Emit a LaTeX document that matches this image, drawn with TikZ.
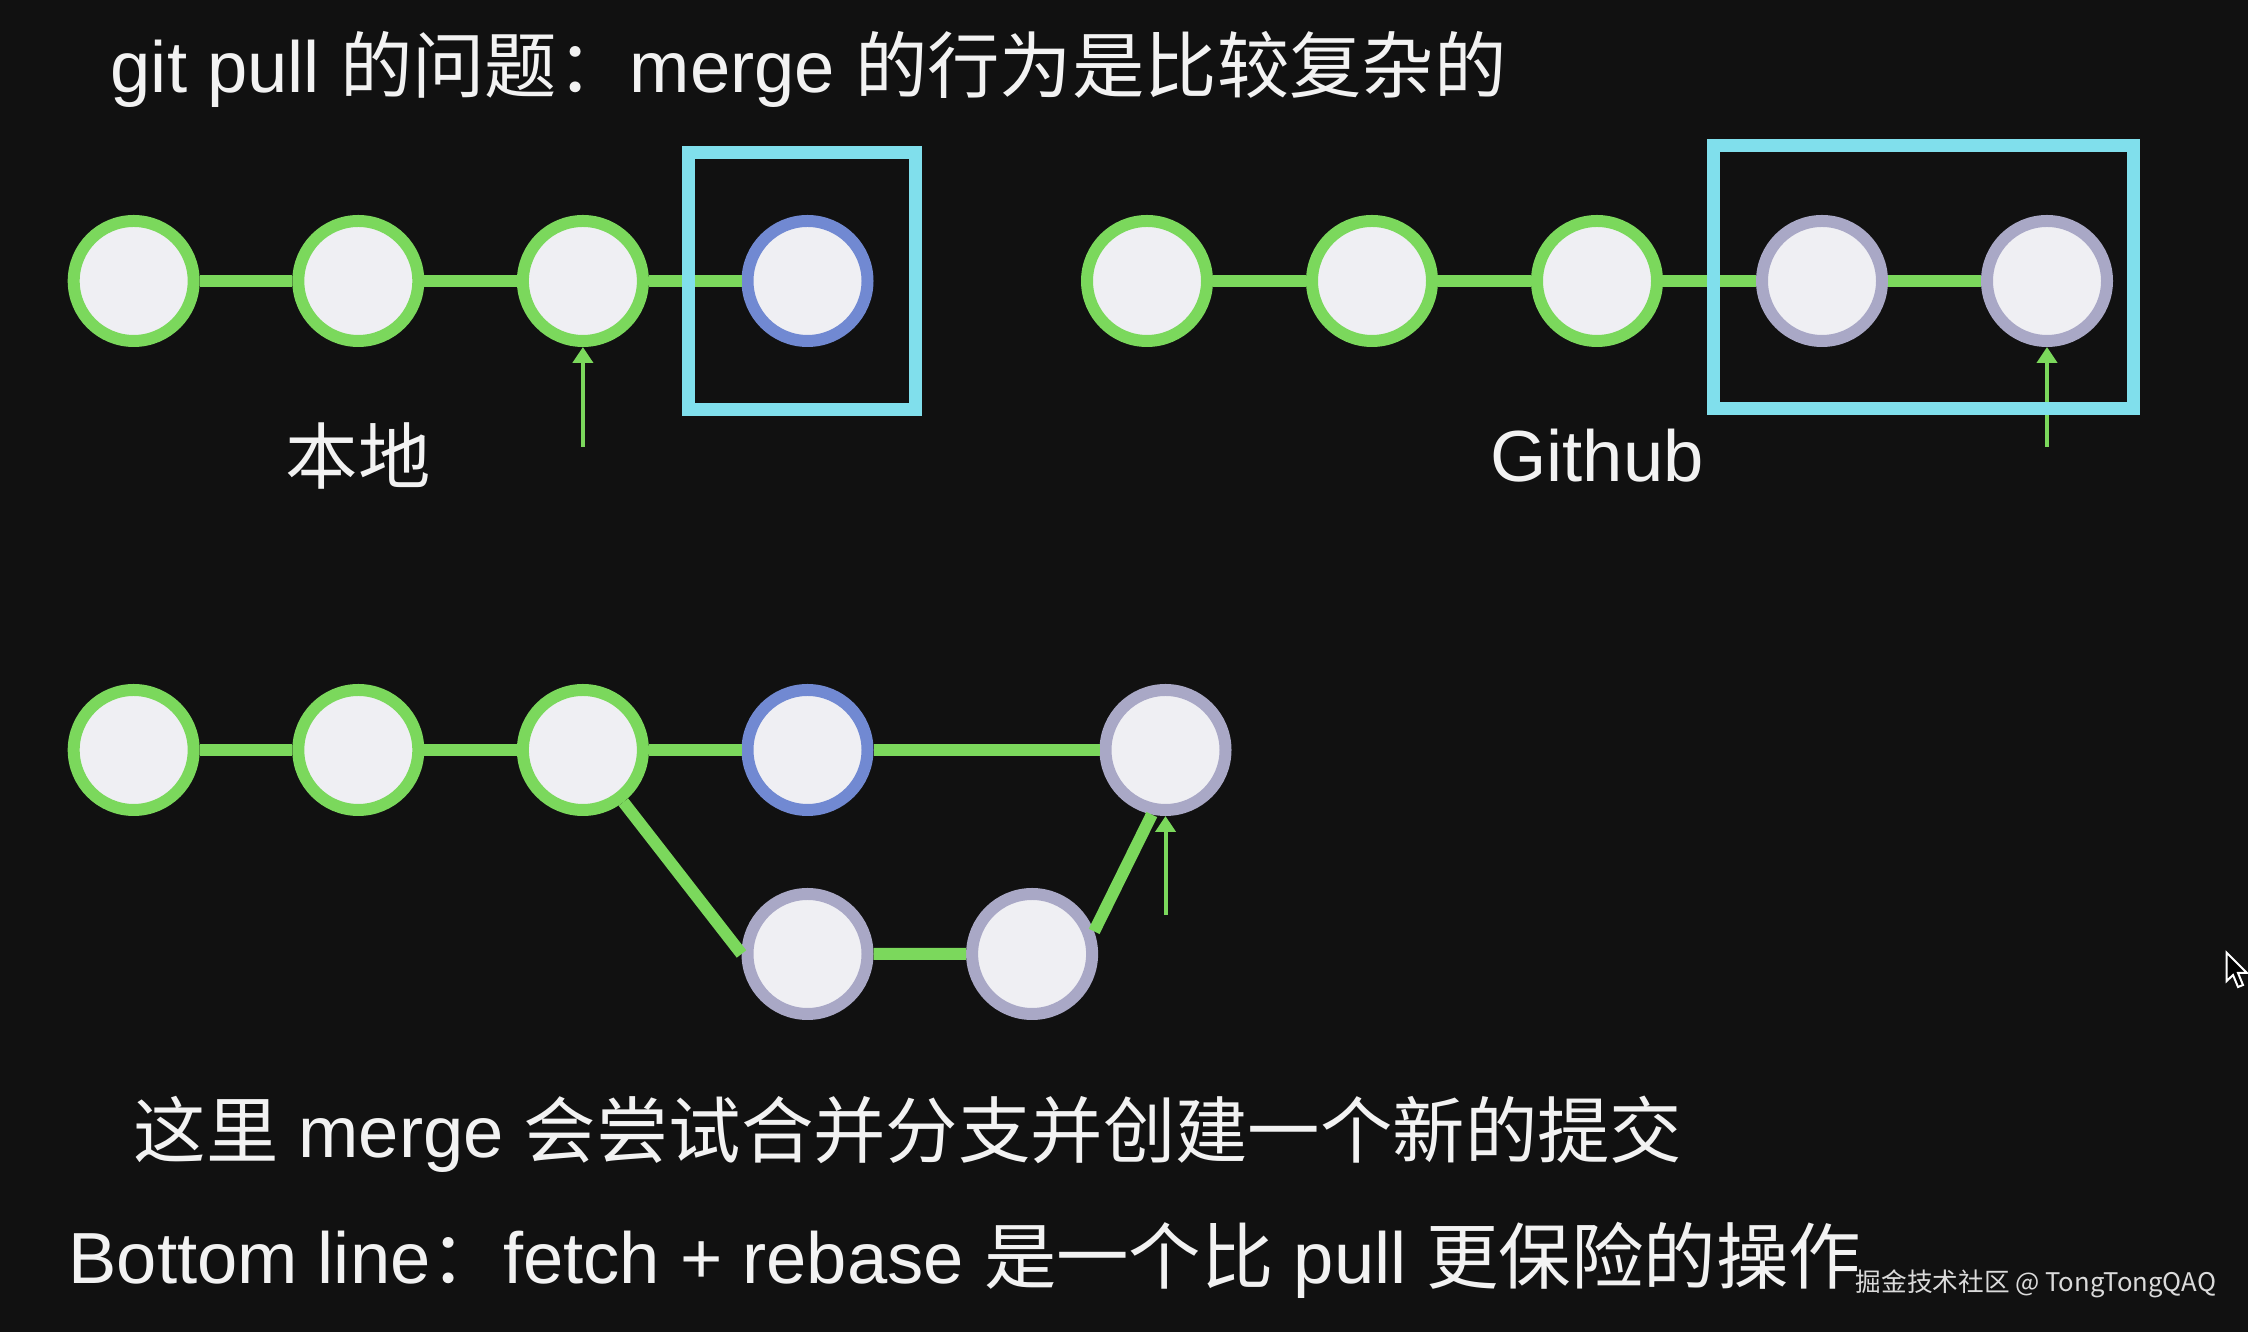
\documentclass[tikz,border=0pt]{standalone}
\usepackage{fontspec}
\setmainfont{Liberation Sans}
\newfontfamily\cjk{Noto Sans CJK SC}
\usetikzlibrary{arrows.meta,positioning}
\definecolor{bgdark}{HTML}{111111}
\definecolor{commitgreen}{HTML}{7BD85C}
\definecolor{commitblue}{HTML}{7189D2}
\definecolor{commitgrey}{HTML}{A9A8C6}
\definecolor{commitfill}{HTML}{EFEFF3}
\definecolor{boxcyan}{HTML}{80DFEC}
\definecolor{textwhite}{HTML}{F2F2F2}
\tikzset{
	%Define standard arrow tip
	>={Triangle[length=0.16cm,width=0.2cm]},
	%Define style for commits
	commit/.style={
		circle,
		draw=commitgreen, line width=0.12cm,
		fill=commitfill,
		minimum size=1.2cm,
		inner sep=0pt},
	localcommit/.style={commit, draw=commitblue},
	remotecommit/.style={commit, draw=commitgrey},
	% Define history line style
	hist/.style={
		commitgreen,
		line width=0.12cm},
	% Define arrow style
	pointer/.style={
		->,
		commitgreen,
		line width=0.04cm},
	% Define style for highlight boxes
	hlbox/.style={
		rectangle,
		draw=boxcyan, line width=0.13cm,
		inner sep=0pt},
	txt/.style={
		text=textwhite,
		inner sep=0pt,
		font=\fontsize{20.6}{24}\selectfont}
}
\begin{document}
\begin{tikzpicture}[node distance=2.246cm, on grid]
	\useasboundingbox (0,0) rectangle (22.48,-13.32);
	\fill[bgdark] (0,0) rectangle (22.48,-13.32);
	
	\node[txt, anchor=base west] (title) at (1.10,-0.93) {git pull {\cjk 的问题：}merge {\cjk 的行为是比较复杂的}};
	
	% local history
	\node[commit] (l1) at (1.337,-2.81) {};
	\node[commit, right=of l1] (l2) {};
	\node[commit, right=of l2] (l3) {};
	\node[localcommit, right=of l3] (l4) {};
	\node[txt, below=1.75cm of l2] (localtxt) {\cjk 本地};
	\coordinate[below=1.66cm of l3] (lptr);
	
	% github history
	\node[commit] (g1) at (11.47,-2.81) {};
	\node[commit, right=2.25cm of g1] (g2) {};
	\node[commit, right=2.25cm of g2] (g3) {};
	\node[remotecommit, right=2.25cm of g3] (g4) {};
	\node[remotecommit, right=2.25cm of g4] (g5) {};
	\node[txt, below=1.75cm of g3] (githubtxt) {Github};
	\coordinate[below=1.66cm of g5] (gptr);
	
	% after merge
	\node[commit] (m1) at (1.337,-7.5) {};
	\node[commit, right=of m1] (m2) {};
	\node[commit, right=of m2] (m3) {};
	\node[localcommit, right=of m3] (m4) {};
	\node[remotecommit, right=3.58cm of m4] (m5) {};
	\node[remotecommit, below=2.04cm of m4] (n1) {};
	\node[remotecommit, right=of n1] (n2) {};
	\coordinate[below=1.65cm of m5] (mptr);
	
	\draw[hist] (l1) -- (l2) (l2) -- (l3) (l3) -- (l4);
	\draw[hist] (g1) -- (g2) (g2) -- (g3) (g3) -- (g4) (g4) -- (g5);
	\draw[hist] (m1) -- (m2) (m2) -- (m3) (m3) -- (m4) (m4) -- (m5);
	\draw[hist] (m3) -- (n1.west) (n1) -- (n2) (n2.20) -- (m5.-102);
	
	\draw[pointer] (lptr) -- (l3);
	\draw[pointer] (gptr) -- (g5);
	\draw[pointer] (mptr) -- (m5);
	
	\node[hlbox, minimum width=2.265cm, minimum height=2.575cm, xshift=-0.055cm] (localbox) at (l4) {};
	\node[hlbox, minimum width=4.2cm, minimum height=2.63cm, right=1.015cm of g4, yshift=0.04cm] (githubbox) {};
	
	\node[txt, anchor=base west] (mergetxt) at (1.33,-11.58) {{\cjk 这里} merge {\cjk 会尝试合并分支并创建一个新的提交}};
	\node[txt, anchor=base west] (bottomtxt) at (0.678,-12.84) {Bottom line{\cjk ：}fetch + rebase {\cjk 是一个比} pull {\cjk 更保险的操作}};
	\node[txt, anchor=base west, text=black!14, font=\cjk\fontsize{7.3}{9}\selectfont] (mark) at (18.55,-12.917) {掘金技术社区 @ TongTongQAQ};
	
	% cursor
	\filldraw[fill=black, draw=white, line width=0.02cm] (22.267,-9.527) -- (22.267,-9.81) -- (22.33,-9.75) -- (22.38,-9.87) -- (22.43,-9.85) -- (22.38,-9.73) -- (22.47,-9.73) -- cycle;
\end{tikzpicture}
\end{document}
